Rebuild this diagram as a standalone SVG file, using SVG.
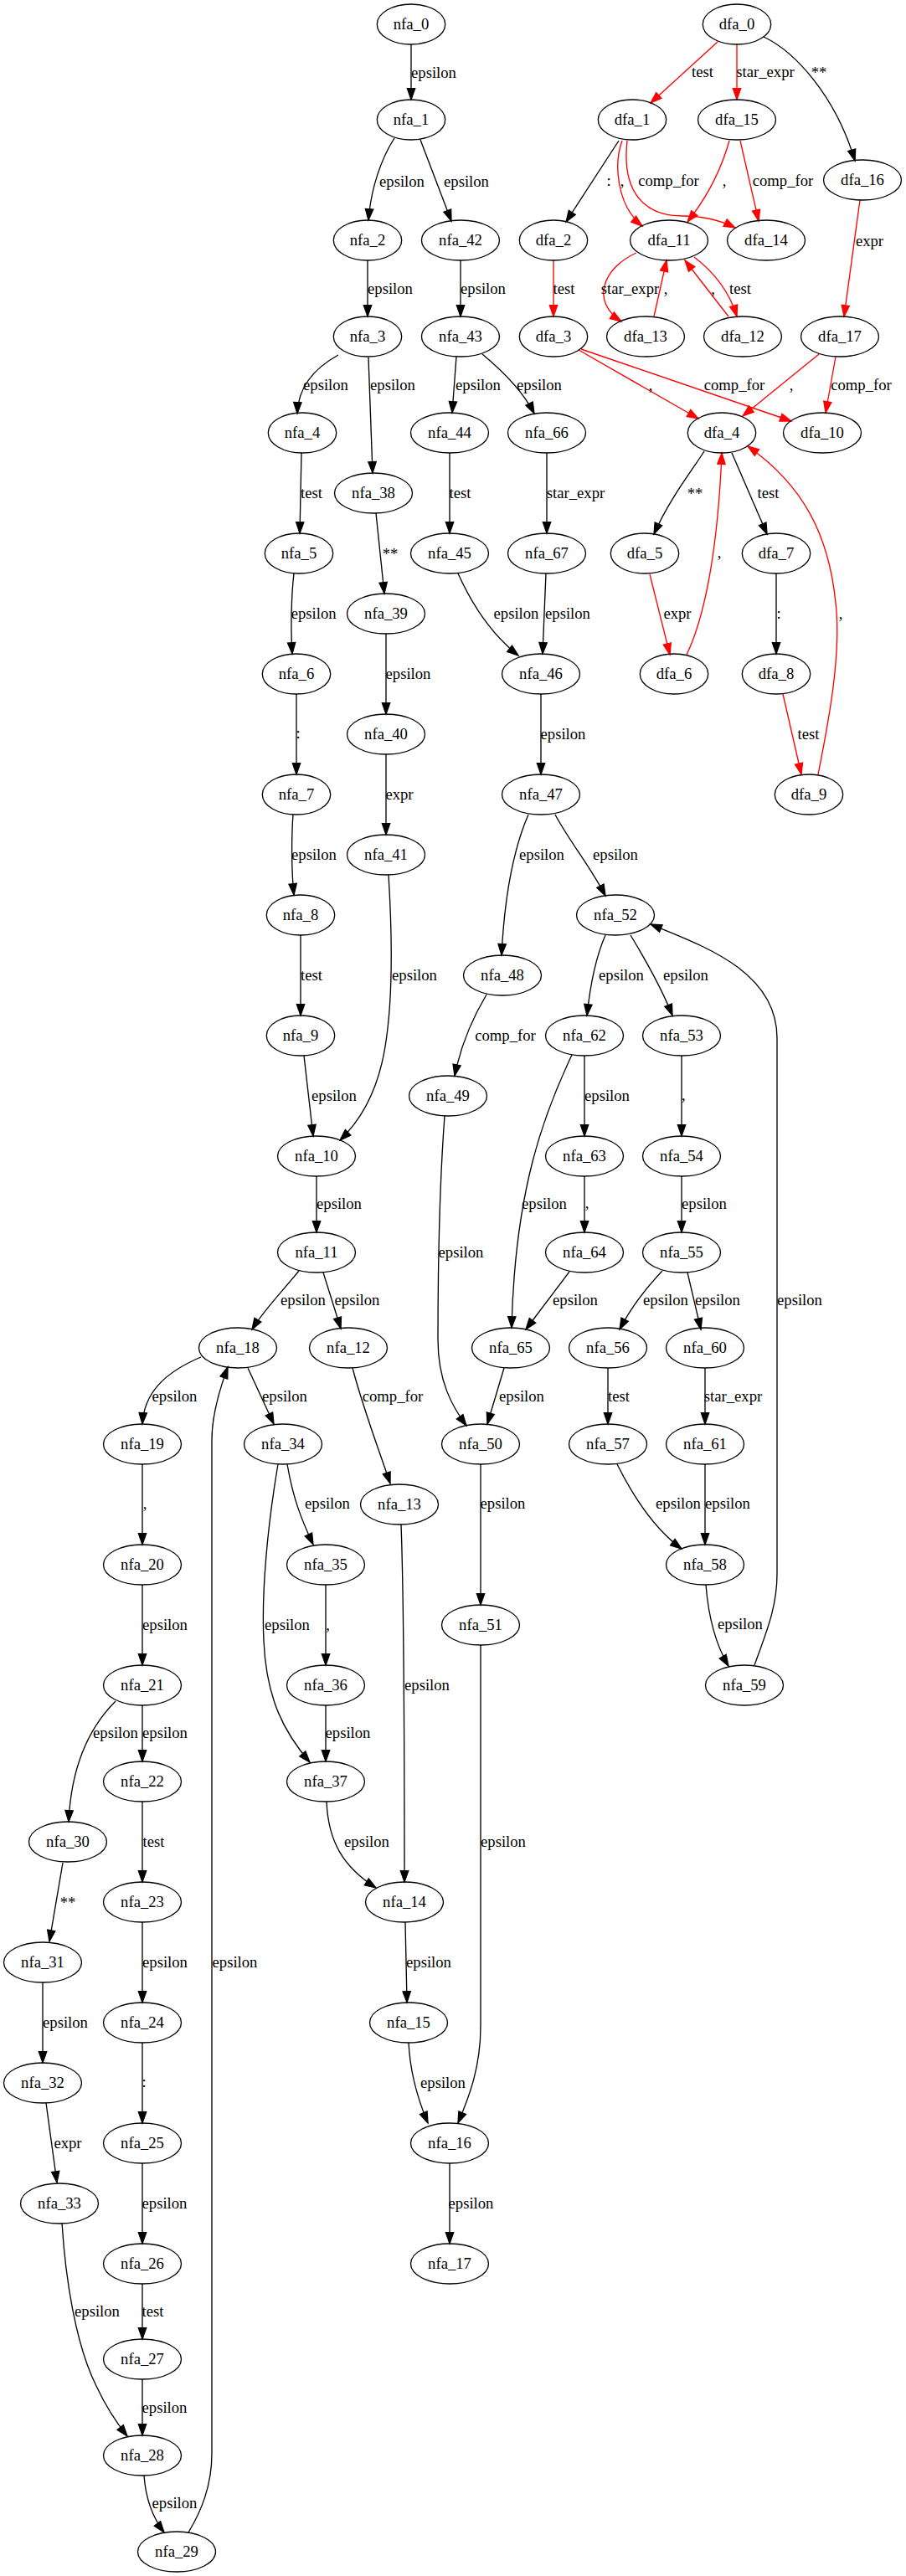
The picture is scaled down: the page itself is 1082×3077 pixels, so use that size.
<svg xmlns="http://www.w3.org/2000/svg" width="1082" height="3077" viewBox="0 0 1082 3077">
<style>
.node ellipse { fill: none; stroke: #000; stroke-width: 1.33; }
text { font-family: "Liberation Serif", "Times New Roman", serif; font-size: 18.67px; text-anchor: middle; fill: #000; }
.edge path { fill: none; stroke: #000; stroke-width: 1.33; marker-end: url(#ah); }
.edge.red path { stroke: #f00; marker-end: url(#ahr); }
</style>
<defs>
<marker id="ah" viewBox="0 0 10 7" refX="10" refY="3.5" markerWidth="13.3" markerHeight="9.33" markerUnits="userSpaceOnUse" orient="auto" overflow="visible"><path d="M0,0L10,3.5L0,7z" fill="#000" stroke="#000" stroke-width="1"/></marker>
<marker id="ahr" viewBox="0 0 10 7" refX="10" refY="3.5" markerWidth="13.3" markerHeight="9.33" markerUnits="userSpaceOnUse" orient="auto" overflow="visible"><path d="M0,0L10,3.5L0,7z" fill="#f00" stroke="#f00" stroke-width="1"/></marker>
</defs>
<rect width="1082" height="3077" fill="#fff"/>

<!-- connectors -->
<g id="edges">
<g class="edge"><path d="M491,53 L491,119"/><text x="518" y="92.5">epsilon</text></g>
<g class="edge"><path d="M471,165 C455,190 443,225 440,263"/><text x="480" y="222.5">epsilon</text></g>
<g class="edge"><path d="M502,167 L539,264"/><text x="557" y="222.5">epsilon</text></g>
<g class="edge"><path d="M439,311 L439,378"/><text x="466" y="351">epsilon</text></g>
<g class="edge"><path d="M550,311 L550,378"/><text x="577" y="351">epsilon</text></g>
<g class="edge"><path d="M404,424 C375,440 356,462 355,494"/><text x="389" y="466">epsilon</text></g>
<g class="edge"><path d="M440,427 L445,565"/><text x="469" y="466">epsilon</text></g>
<g class="edge"><path d="M545,426 L540,493"/><text x="571" y="466">epsilon</text></g>
<g class="edge"><path d="M576,423 C600,443 624,466 638,494"/><text x="644" y="466">epsilon</text></g>
<g class="edge"><path d="M360,541 L358,637"/><text x="372" y="594.5">test</text></g>
<g class="edge"><path d="M537,541 L537,637"/><text x="549.5" y="594.5">test</text></g>
<g class="edge"><path d="M653,541 L653,637"/><text x="687.5" y="594.5">star_expr</text></g>
<g class="edge"><path d="M449,613 L459,709"/><text x="466" y="668">**</text></g>
<g class="edge"><path d="M351,685 C348,710 347,750 349,781"/><text x="374.6" y="738.5">epsilon</text></g>
<g class="edge"><path d="M461,757 L461,853"/><text x="487.5" y="810.5">epsilon</text></g>
<g class="edge"><path d="M547,685 C565,725 590,760 619,783"/><text x="616.5" y="738.5">epsilon</text></g>
<g class="edge"><path d="M652,685 L648,781"/><text x="678" y="738.5">epsilon</text></g>
<g class="edge"><path d="M354,829 L354,925"/><text x="356" y="882">:</text></g>
<g class="edge"><path d="M461,901 L461,997"/><text x="477" y="954.5">expr</text></g>
<g class="edge"><path d="M646,829 L646,925"/><text x="672.5" y="882.5">epsilon</text></g>
<g class="edge"><path d="M350,973 C348,1000 348,1040 351,1069"/><text x="375" y="1027">epsilon</text></g>
<g class="edge"><path d="M464,1045 C468,1110 470,1190 460,1250 C452,1300 432,1337 406,1362"/><text x="495" y="1171">epsilon</text></g>
<g class="edge"><path d="M631,973 C615,1010 603,1060 599,1141"/><text x="647" y="1027">epsilon</text></g>
<g class="edge"><path d="M663,973 C680,1005 705,1035 723,1070"/><text x="735" y="1027">epsilon</text></g>
<g class="edge"><path d="M359,1117 L359,1213"/><text x="372" y="1170.5">test</text></g>
<g class="edge"><path d="M363,1261 L374,1357"/><text x="399" y="1315">epsilon</text></g>
<g class="edge"><path d="M581,1188 C565,1215 550,1250 543,1285"/><text x="603.5" y="1243">comp_for</text></g>
<g class="edge"><path d="M723,1117 C713,1140 705,1175 701,1213"/><text x="742" y="1171">epsilon</text></g>
<g class="edge"><path d="M753,1117 C770,1145 790,1180 803,1213"/><text x="819" y="1171">epsilon</text></g>
<g class="edge"><path d="M698,1261 L698,1357"/><text x="725" y="1315">epsilon</text></g>
<g class="edge"><path d="M814,1261 L814,1357"/><text x="816.4" y="1314">,</text></g>
<g class="edge"><path d="M683,1260 C650,1330 615,1420 611,1586"/><text x="650" y="1443.5">epsilon</text></g>
<g class="edge"><path d="M698,1405 L698,1472"/><text x="701" y="1443">,</text></g>
<g class="edge"><path d="M814,1405 L814,1472"/><text x="841" y="1443.5">epsilon</text></g>
<g class="edge"><path d="M378,1405 L378,1472"/><text x="405" y="1444">epsilon</text></g>
<g class="edge"><path d="M531,1333 C526,1400 523,1500 523,1600 C523,1650 540,1680 557,1703"/><text x="550.5" y="1501.5">epsilon</text></g>
<g class="edge"><path d="M680,1519 L628,1588"/><text x="687" y="1558.5">epsilon</text></g>
<g class="edge"><path d="M791,1518 C770,1540 752,1565 740,1588"/><text x="795" y="1558.5">epsilon</text></g>
<g class="edge"><path d="M821,1520 L837,1588"/><text x="857" y="1558.5">epsilon</text></g>
<g class="edge"><path d="M357,1518 C335,1545 315,1565 301,1588"/><text x="362" y="1558.5">epsilon</text></g>
<g class="edge"><path d="M386,1520 L407,1587"/><text x="426.5" y="1558.5">epsilon</text></g>
<g class="edge"><path d="M901,1989 C915,1950 928,1920 928,1880 L928,1240 C928,1160 840,1130 777,1104"/><text x="955" y="1558.5">epsilon</text></g>
<g class="edge"><path d="M602,1634 L582,1701"/><text x="623" y="1673.5">epsilon</text></g>
<g class="edge"><path d="M726,1634 L726,1701"/><text x="739" y="1673.5">test</text></g>
<g class="edge"><path d="M842,1634 L842,1701"/><text x="875.5" y="1673.5">star_expr</text></g>
<g class="edge"><path d="M421,1634 C433,1680 450,1725 466,1772"/><text x="469" y="1673.5">comp_for</text></g>
<g class="edge"><path d="M240,1621 C195,1640 172,1665 170,1701"/><text x="208.5" y="1673.5">epsilon</text></g>
<g class="edge"><path d="M296,1634 L327,1701"/><text x="340" y="1673.5">epsilon</text></g>
<g class="edge"><path d="M574,1749 L574,1917"/><text x="600.5" y="1802">epsilon</text></g>
<g class="edge"><path d="M737,1749 C755,1785 780,1825 814,1850"/><text x="810" y="1802">epsilon</text></g>
<g class="edge"><path d="M842,1749 L842,1845"/><text x="869" y="1802">epsilon</text></g>
<g class="edge"><path d="M170,1749 L170,1845"/><text x="173" y="1802">,</text></g>
<g class="edge"><path d="M343,1749 C350,1790 360,1815 374,1845"/><text x="391" y="1802">epsilon</text></g>
<g class="edge"><path d="M332,1749 C320,1820 312,1900 315,1960 C318,2030 340,2070 370,2105"/><text x="343" y="1947">epsilon</text></g>
<g class="edge"><path d="M479,1821 C482,1900 483,2100 483,2248"/><text x="510" y="2018.5">epsilon</text></g>
<g class="edge"><path d="M843,1893 C846,1930 855,1965 870,1990"/><text x="884" y="1946">epsilon</text></g>
<g class="edge"><path d="M170,1893 L170,1989"/><text x="197" y="1947">epsilon</text></g>
<g class="edge"><path d="M389,1893 L389,1989"/><text x="391.5" y="1947">,</text></g>
<g class="edge"><path d="M574,1965 L574,2420 C574,2470 560,2505 547,2536"/><text x="601" y="2205.5">epsilon</text></g>
<g class="edge"><path d="M138,2032 C105,2065 85,2110 82,2176"/><text x="138" y="2076">epsilon</text></g>
<g class="edge"><path d="M170,2037 L170,2104"/><text x="197" y="2076">epsilon</text></g>
<g class="edge"><path d="M389,2037 L389,2104"/><text x="415.5" y="2076">epsilon</text></g>
<g class="edge"><path d="M170,2152 L170,2248"/><text x="183.5" y="2205.5">test</text></g>
<g class="edge"><path d="M390,2152 C392,2200 410,2230 449,2255"/><text x="438" y="2205.5">epsilon</text></g>
<g class="edge"><path d="M75,2225 L59,2319"/><text x="81" y="2279">**</text></g>
<g class="edge"><path d="M170,2296 L170,2392"/><text x="197" y="2349.5">epsilon</text></g>
<g class="edge"><path d="M484,2296 L486,2392"/><text x="512" y="2349.5">epsilon</text></g>
<g class="edge"><path d="M225,3025 C240,3000 253,2970 253,2930 L253,1720 C253,1690 262,1660 272,1633"/><text x="280.5" y="2349.5">epsilon</text></g>
<g class="edge"><path d="M51,2368 L51,2464"/><text x="78" y="2422">epsilon</text></g>
<g class="edge"><path d="M170,2440 L170,2536"/><text x="172" y="2493">:</text></g>
<g class="edge"><path d="M488,2440 C490,2480 500,2510 511,2536"/><text x="529" y="2494">epsilon</text></g>
<g class="edge"><path d="M55,2512 L68,2607"/><text x="81" y="2566">expr</text></g>
<g class="edge"><path d="M170,2584 L170,2680"/><text x="196.5" y="2638">epsilon</text></g>
<g class="edge"><path d="M537,2584 L537,2680"/><text x="562.5" y="2638">epsilon</text></g>
<g class="edge"><path d="M74,2655 C78,2720 90,2800 115,2850 C128,2878 140,2895 152,2910"/><text x="116" y="2767">epsilon</text></g>
<g class="edge"><path d="M170,2728 L170,2794"/><text x="182.5" y="2767">test</text></g>
<g class="edge"><path d="M170,2842 L170,2909"/><text x="196.5" y="2881.5">epsilon</text></g>
<g class="edge"><path d="M172,2957 C174,2985 183,3008 196,3025"/><text x="208.5" y="2996">epsilon</text></g>

<g class="edge red"><path d="M857,50 L777,123"/><text x="839" y="92">test</text></g>
<g class="edge red"><path d="M880,53 L880,119"/><text x="914" y="92">star_expr</text></g>
<g class="edge"><path d="M912,44 C950,62 998,115 1021,192"/><text x="978" y="92.5">**</text></g>
<g class="edge"><path d="M739,168 L676,265"/><text x="727" y="222">:</text></g>
<g class="edge red"><path d="M743,168 C733,195 736,245 767,270"/><text x="743" y="222">,</text></g>
<g class="edge red"><path d="M749,168 C742,230 770,258 815,258 C840,258 860,263 878,272"/><text x="798.5" y="222">comp_for</text></g>
<g class="edge red"><path d="M871,168 C862,200 845,235 821,265"/><text x="865" y="222">,</text></g>
<g class="edge red"><path d="M884,168 L906,264"/><text x="935" y="222">comp_for</text></g>
<g class="edge red"><path d="M1027,239 L1008,378"/><text x="1038.5" y="294">expr</text></g>
<g class="edge red"><path d="M661,311 L661,378"/><text x="673.5" y="351">test</text></g>
<g class="edge red"><path d="M760,302 C720,320 705,360 742,384"/><text x="752.5" y="351">star_expr</text></g>
<g class="edge red"><path d="M781,378 L796,311"/><text x="795" y="351">,</text></g>
<g class="edge red"><path d="M829,307 C850,323 870,345 880,378"/><text x="884" y="351">test</text></g>
<g class="edge red"><path d="M870,378 L818,311"/><text x="851.5" y="351">,</text></g>
<g class="edge red"><path d="M691,418 L834,500"/><text x="777" y="466">,</text></g>
<g class="edge red"><path d="M694,417 L945,503"/><text x="877" y="466">comp_for</text></g>
<g class="edge red"><path d="M978,423 L887,497"/><text x="945" y="466">,</text></g>
<g class="edge red"><path d="M998,426 L986,493"/><text x="1028.5" y="466">comp_for</text></g>
<g class="edge"><path d="M841,539 C828,560 800,595 781,638"/><text x="830" y="596">**</text></g>
<g class="edge"><path d="M874,541 L916,638"/><text x="917.5" y="594.5">test</text></g>
<g class="edge red"><path d="M776,686 L800,782"/><text x="809" y="738.5">expr</text></g>
<g class="edge red"><path d="M820,782 C845,730 858,640 862,541"/><text x="859" y="666">,</text></g>
<g class="edge"><path d="M927,685 L927,781"/><text x="930" y="738.5">:</text></g>
<g class="edge red"><path d="M935,829 L957,925"/><text x="965.5" y="882.5">test</text></g>
<g class="edge red"><path d="M977,925 C990,860 1005,780 998,720 C990,640 960,580 893,533"/><text x="1004" y="738.5">,</text></g>
</g>

<!-- NFA states -->
<g id="nfa_0" class="node"><ellipse cx="491" cy="29" rx="40.7" ry="24"/><text x="491" y="34.6">nfa_0</text></g>
<g id="nfa_1" class="node"><ellipse cx="491" cy="143" rx="40.7" ry="24"/><text x="491" y="148.6">nfa_1</text></g>
<g id="nfa_2" class="node"><ellipse cx="439" cy="287" rx="40.7" ry="24"/><text x="439" y="292.6">nfa_2</text></g>
<g id="nfa_42" class="node"><ellipse cx="550" cy="287" rx="46.5" ry="24"/><text x="550" y="292.6">nfa_42</text></g>
<g id="nfa_3" class="node"><ellipse cx="439" cy="402" rx="40.7" ry="24"/><text x="439" y="407.6">nfa_3</text></g>
<g id="nfa_43" class="node"><ellipse cx="550" cy="402" rx="46.5" ry="24"/><text x="550" y="407.6">nfa_43</text></g>
<g id="nfa_4" class="node"><ellipse cx="361" cy="517" rx="40.7" ry="24"/><text x="361" y="522.6">nfa_4</text></g>
<g id="nfa_44" class="node"><ellipse cx="537" cy="517" rx="46.5" ry="24"/><text x="537" y="522.6">nfa_44</text></g>
<g id="nfa_66" class="node"><ellipse cx="653" cy="517" rx="46.5" ry="24"/><text x="653" y="522.6">nfa_66</text></g>
<g id="nfa_38" class="node"><ellipse cx="446" cy="589" rx="46.5" ry="24"/><text x="446" y="594.6">nfa_38</text></g>
<g id="nfa_5" class="node"><ellipse cx="357" cy="661" rx="40.7" ry="24"/><text x="357" y="666.6">nfa_5</text></g>
<g id="nfa_45" class="node"><ellipse cx="537" cy="661" rx="46.5" ry="24"/><text x="537" y="666.6">nfa_45</text></g>
<g id="nfa_67" class="node"><ellipse cx="653" cy="661" rx="46.5" ry="24"/><text x="653" y="666.6">nfa_67</text></g>
<g id="nfa_39" class="node"><ellipse cx="461" cy="733" rx="46.5" ry="24"/><text x="461" y="738.6">nfa_39</text></g>
<g id="nfa_6" class="node"><ellipse cx="354" cy="805" rx="40.7" ry="24"/><text x="354" y="810.6">nfa_6</text></g>
<g id="nfa_46" class="node"><ellipse cx="646" cy="805" rx="46.5" ry="24"/><text x="646" y="810.6">nfa_46</text></g>
<g id="nfa_40" class="node"><ellipse cx="461" cy="877" rx="46.5" ry="24"/><text x="461" y="882.6">nfa_40</text></g>
<g id="nfa_7" class="node"><ellipse cx="354" cy="949" rx="40.7" ry="24"/><text x="354" y="954.6">nfa_7</text></g>
<g id="nfa_47" class="node"><ellipse cx="646" cy="949" rx="46.5" ry="24"/><text x="646" y="954.6">nfa_47</text></g>
<g id="nfa_41" class="node"><ellipse cx="461" cy="1021" rx="46.5" ry="24"/><text x="461" y="1026.6">nfa_41</text></g>
<g id="nfa_8" class="node"><ellipse cx="359" cy="1093" rx="40.7" ry="24"/><text x="359" y="1098.6">nfa_8</text></g>
<g id="nfa_52" class="node"><ellipse cx="735" cy="1093" rx="46.5" ry="24"/><text x="735" y="1098.6">nfa_52</text></g>
<g id="nfa_48" class="node"><ellipse cx="600" cy="1165" rx="46.5" ry="24"/><text x="600" y="1170.6">nfa_48</text></g>
<g id="nfa_9" class="node"><ellipse cx="359" cy="1237" rx="40.7" ry="24"/><text x="359" y="1242.6">nfa_9</text></g>
<g id="nfa_62" class="node"><ellipse cx="698" cy="1237" rx="46.5" ry="24"/><text x="698" y="1242.6">nfa_62</text></g>
<g id="nfa_53" class="node"><ellipse cx="814" cy="1237" rx="46.5" ry="24"/><text x="814" y="1242.6">nfa_53</text></g>
<g id="nfa_49" class="node"><ellipse cx="535" cy="1309" rx="46.5" ry="24"/><text x="535" y="1314.6">nfa_49</text></g>
<g id="nfa_10" class="node"><ellipse cx="378" cy="1381" rx="46.5" ry="24"/><text x="378" y="1386.6">nfa_10</text></g>
<g id="nfa_63" class="node"><ellipse cx="698" cy="1381" rx="46.5" ry="24"/><text x="698" y="1386.6">nfa_63</text></g>
<g id="nfa_54" class="node"><ellipse cx="814" cy="1381" rx="46.5" ry="24"/><text x="814" y="1386.6">nfa_54</text></g>
<g id="nfa_11" class="node"><ellipse cx="378" cy="1496" rx="46.5" ry="24"/><text x="378" y="1501.6">nfa_11</text></g>
<g id="nfa_64" class="node"><ellipse cx="698" cy="1496" rx="46.5" ry="24"/><text x="698" y="1501.6">nfa_64</text></g>
<g id="nfa_55" class="node"><ellipse cx="814" cy="1496" rx="46.5" ry="24"/><text x="814" y="1501.6">nfa_55</text></g>
<g id="nfa_18" class="node"><ellipse cx="284" cy="1610" rx="46.5" ry="24"/><text x="284" y="1615.6">nfa_18</text></g>
<g id="nfa_12" class="node"><ellipse cx="416" cy="1610" rx="46.5" ry="24"/><text x="416" y="1615.6">nfa_12</text></g>
<g id="nfa_65" class="node"><ellipse cx="610" cy="1610" rx="46.5" ry="24"/><text x="610" y="1615.6">nfa_65</text></g>
<g id="nfa_56" class="node"><ellipse cx="726" cy="1610" rx="46.5" ry="24"/><text x="726" y="1615.6">nfa_56</text></g>
<g id="nfa_60" class="node"><ellipse cx="842" cy="1610" rx="46.5" ry="24"/><text x="842" y="1615.6">nfa_60</text></g>
<g id="nfa_19" class="node"><ellipse cx="170" cy="1725" rx="46.5" ry="24"/><text x="170" y="1730.6">nfa_19</text></g>
<g id="nfa_34" class="node"><ellipse cx="338" cy="1725" rx="46.5" ry="24"/><text x="338" y="1730.6">nfa_34</text></g>
<g id="nfa_50" class="node"><ellipse cx="574" cy="1725" rx="46.5" ry="24"/><text x="574" y="1730.6">nfa_50</text></g>
<g id="nfa_57" class="node"><ellipse cx="726" cy="1725" rx="46.5" ry="24"/><text x="726" y="1730.6">nfa_57</text></g>
<g id="nfa_61" class="node"><ellipse cx="842" cy="1725" rx="46.5" ry="24"/><text x="842" y="1730.6">nfa_61</text></g>
<g id="nfa_13" class="node"><ellipse cx="477" cy="1797" rx="46.5" ry="24"/><text x="477" y="1802.6">nfa_13</text></g>
<g id="nfa_20" class="node"><ellipse cx="170" cy="1869" rx="46.5" ry="24"/><text x="170" y="1874.6">nfa_20</text></g>
<g id="nfa_35" class="node"><ellipse cx="389" cy="1869" rx="46.5" ry="24"/><text x="389" y="1874.6">nfa_35</text></g>
<g id="nfa_58" class="node"><ellipse cx="842" cy="1869" rx="46.5" ry="24"/><text x="842" y="1874.6">nfa_58</text></g>
<g id="nfa_51" class="node"><ellipse cx="574" cy="1941" rx="46.5" ry="24"/><text x="574" y="1946.6">nfa_51</text></g>
<g id="nfa_21" class="node"><ellipse cx="170" cy="2013" rx="46.5" ry="24"/><text x="170" y="2018.6">nfa_21</text></g>
<g id="nfa_36" class="node"><ellipse cx="389" cy="2013" rx="46.5" ry="24"/><text x="389" y="2018.6">nfa_36</text></g>
<g id="nfa_59" class="node"><ellipse cx="889" cy="2013" rx="46.5" ry="24"/><text x="889" y="2018.6">nfa_59</text></g>
<g id="nfa_22" class="node"><ellipse cx="170" cy="2128" rx="46.5" ry="24"/><text x="170" y="2133.6">nfa_22</text></g>
<g id="nfa_37" class="node"><ellipse cx="389" cy="2128" rx="46.5" ry="24"/><text x="389" y="2133.6">nfa_37</text></g>
<g id="nfa_30" class="node"><ellipse cx="81" cy="2200" rx="46.5" ry="24"/><text x="81" y="2205.6">nfa_30</text></g>
<g id="nfa_23" class="node"><ellipse cx="170" cy="2272" rx="46.5" ry="24"/><text x="170" y="2277.6">nfa_23</text></g>
<g id="nfa_14" class="node"><ellipse cx="483" cy="2272" rx="46.5" ry="24"/><text x="483" y="2277.6">nfa_14</text></g>
<g id="nfa_31" class="node"><ellipse cx="51" cy="2344" rx="46.5" ry="24"/><text x="51" y="2349.6">nfa_31</text></g>
<g id="nfa_24" class="node"><ellipse cx="170" cy="2416" rx="46.5" ry="24"/><text x="170" y="2421.6">nfa_24</text></g>
<g id="nfa_15" class="node"><ellipse cx="488" cy="2416" rx="46.5" ry="24"/><text x="488" y="2421.6">nfa_15</text></g>
<g id="nfa_32" class="node"><ellipse cx="51" cy="2488" rx="46.5" ry="24"/><text x="51" y="2493.6">nfa_32</text></g>
<g id="nfa_25" class="node"><ellipse cx="170" cy="2560" rx="46.5" ry="24"/><text x="170" y="2565.6">nfa_25</text></g>
<g id="nfa_16" class="node"><ellipse cx="537" cy="2560" rx="46.5" ry="24"/><text x="537" y="2565.6">nfa_16</text></g>
<g id="nfa_33" class="node"><ellipse cx="71" cy="2632" rx="46.5" ry="24"/><text x="71" y="2637.6">nfa_33</text></g>
<g id="nfa_26" class="node"><ellipse cx="170" cy="2704" rx="46.5" ry="24"/><text x="170" y="2709.6">nfa_26</text></g>
<g id="nfa_17" class="node"><ellipse cx="537" cy="2704" rx="46.5" ry="24"/><text x="537" y="2709.6">nfa_17</text></g>
<g id="nfa_27" class="node"><ellipse cx="170" cy="2818" rx="46.5" ry="24"/><text x="170" y="2823.6">nfa_27</text></g>
<g id="nfa_28" class="node"><ellipse cx="170" cy="2933" rx="46.5" ry="24"/><text x="170" y="2938.6">nfa_28</text></g>
<g id="nfa_29" class="node"><ellipse cx="211" cy="3048" rx="46.5" ry="24"/><text x="211" y="3053.6">nfa_29</text></g>

<!-- DFA states -->
<g id="dfa_0" class="node"><ellipse cx="880" cy="29" rx="40.7" ry="24"/><text x="880" y="34.6">dfa_0</text></g>
<g id="dfa_1" class="node"><ellipse cx="755" cy="143" rx="40.7" ry="24"/><text x="755" y="148.6">dfa_1</text></g>
<g id="dfa_15" class="node"><ellipse cx="880" cy="143" rx="46.5" ry="24"/><text x="880" y="148.6">dfa_15</text></g>
<g id="dfa_16" class="node"><ellipse cx="1030" cy="215" rx="46.5" ry="24"/><text x="1030" y="220.6">dfa_16</text></g>
<g id="dfa_2" class="node"><ellipse cx="661" cy="287" rx="40.7" ry="24"/><text x="661" y="292.6">dfa_2</text></g>
<g id="dfa_11" class="node"><ellipse cx="799" cy="287" rx="46.5" ry="24"/><text x="799" y="292.6">dfa_11</text></g>
<g id="dfa_14" class="node"><ellipse cx="915" cy="287" rx="46.5" ry="24"/><text x="915" y="292.6">dfa_14</text></g>
<g id="dfa_3" class="node"><ellipse cx="661" cy="402" rx="40.7" ry="24"/><text x="661" y="407.6">dfa_3</text></g>
<g id="dfa_13" class="node"><ellipse cx="771" cy="402" rx="46.5" ry="24"/><text x="771" y="407.6">dfa_13</text></g>
<g id="dfa_12" class="node"><ellipse cx="887" cy="402" rx="46.5" ry="24"/><text x="887" y="407.6">dfa_12</text></g>
<g id="dfa_17" class="node"><ellipse cx="1003" cy="402" rx="46.5" ry="24"/><text x="1003" y="407.6">dfa_17</text></g>
<g id="dfa_4" class="node"><ellipse cx="862" cy="517" rx="40.7" ry="24"/><text x="862" y="522.6">dfa_4</text></g>
<g id="dfa_10" class="node"><ellipse cx="982" cy="517" rx="46.5" ry="24"/><text x="982" y="522.6">dfa_10</text></g>
<g id="dfa_5" class="node"><ellipse cx="770" cy="661" rx="40.7" ry="24"/><text x="770" y="666.6">dfa_5</text></g>
<g id="dfa_7" class="node"><ellipse cx="927" cy="661" rx="40.7" ry="24"/><text x="927" y="666.6">dfa_7</text></g>
<g id="dfa_6" class="node"><ellipse cx="805" cy="805" rx="40.7" ry="24"/><text x="805" y="810.6">dfa_6</text></g>
<g id="dfa_8" class="node"><ellipse cx="927" cy="805" rx="40.7" ry="24"/><text x="927" y="810.6">dfa_8</text></g>
<g id="dfa_9" class="node"><ellipse cx="966" cy="949" rx="40.7" ry="24"/><text x="966" y="954.6">dfa_9</text></g>
</svg>
